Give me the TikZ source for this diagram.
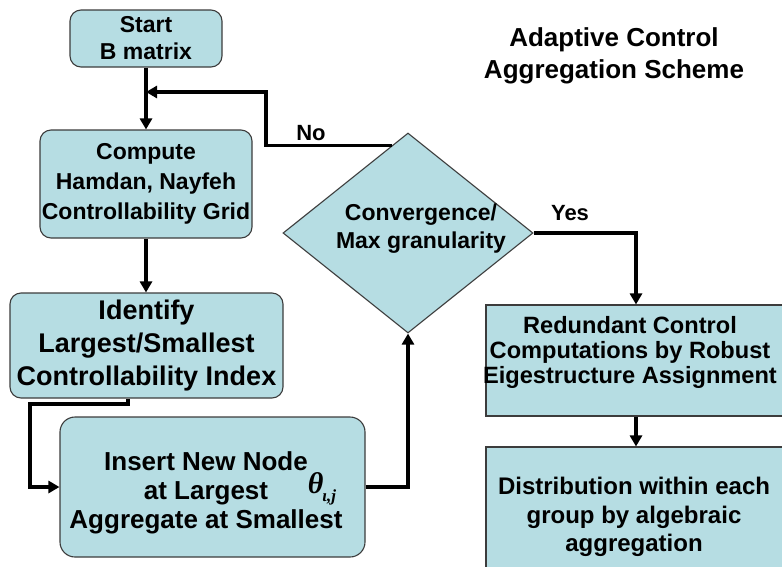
\documentclass[tikz,border=0pt]{standalone}
\usepackage{fontspec}
\setmainfont{Liberation Sans}
\newfontfamily\thetafont{Liberation Serif}
\usetikzlibrary{shapes.geometric,arrows.meta,calc}
\definecolor{boxfill}{RGB}{182,221,227}
\definecolor{boxline}{RGB}{60,60,60}
\begin{document}
\begin{tikzpicture}[x=1pt,y=-1pt,
  box/.style={draw=boxline,fill=boxfill,line width=1.1pt,inner sep=0pt},
  rbox/.style={box,rounded corners=11pt},
  txt/.style={align=center,inner sep=0pt},
  conn/.style={line width=3.2pt},
  arr/.style={conn,-{Triangle[width=12pt,length=11pt]}}]
\useasboundingbox (0,0) rectangle (782,566);
\clip (0,0) rectangle (782,566);

% boxes
\node[rbox,minimum width=152pt,minimum height=57pt,txt,
  font={\fontsize{23}{27}\selectfont\bfseries}] (start) at (146,38.5) {Start\\B matrix};
\node[rbox,minimum width=212pt,minimum height=108pt,txt,
  font={\fontsize{23}{30}\selectfont\bfseries}] (compute) at (146,184)
  {Compute\\Hamdan, Nayfeh\\Controllability Grid};
\node[rbox,minimum width=273pt,minimum height=105pt,txt,
  font={\fontsize{27}{33}\selectfont\bfseries}] (identify) at (146.5,345.5)
  {Identify\\Largest/Smallest\\Controllability Index};
\node[rbox,rounded corners=15pt,minimum width=305pt,minimum height=140pt] (insert) at (212.5,487) {};
\node[txt,font={\fontsize{26}{29}\selectfont\bfseries}] (inserttext) at (206,493)
  {Insert New Node\\at Largest\\Aggregate at Smallest};
\node[txt,font={\thetafont\bfseries\itshape\fontsize{30}{30}\selectfont}] (theta) at (322,489)
  {θ\kern-1pt\raisebox{-8pt}{\fontsize{17}{17}\selectfont ι,j}};

\node[box,shape=diamond,minimum width=250pt,minimum height=200pt] (dec) at (408,233) {};
\node[txt,font={\fontsize{23}{28}\selectfont\bfseries}] (dectext) at (421,229)
  {Convergence/\\Max granularity};

\node[box,minimum width=300pt,minimum height=111pt] (redundant) at (636,360.5) {};
\node[txt,font={\fontsize{23.6}{25}\selectfont\bfseries}] (redtext) at (630,352)
  {Redundant Control\\Computations by Robust\\Eigestructure Assignment};
\node[box,minimum width=300pt,minimum height=143pt] (distribution) at (636,518.5) {};
\node[txt,font={\fontsize{24}{28.5}\selectfont\bfseries}] (disttext) at (634,517)
  {Distribution within each\\group by algebraic\\aggregation};

\node[txt,font={\fontsize{26}{32}\selectfont\bfseries}] (title) at (614,56)
  {Adaptive Control\\Aggregation Scheme};

\node[txt,font={\fontsize{22}{22}\selectfont\bfseries}] (nolab) at (311,133) {No};
\node[txt,font={\fontsize{22}{22}\selectfont\bfseries}] (yeslab) at (570,213) {Yes};

% coordinates
\coordinate (j) at (146,92);
\coordinate (nk) at (266,92);
\coordinate (nostart) at ($(dec.north)!0.13!(dec.west)$);
\coordinate (ia) at (128,404);
\coordinate (ib) at (30,404);

% connectors
\draw[arr] (start.south) -- (compute.north);
\draw[arr] (nostart) -| (nk) -- (j);
\draw[arr] (compute.south) -- (compute.south |- identify.north);
\draw[arr] (identify.south -| ia) -- (ia) -- (ib) |- (insert.west);
\draw[arr] (insert.east) -| (dec.south);
\draw[arr] (dec.east) -| (redundant.north);
\draw[arr] (redundant.south) -- (distribution.north);
\end{tikzpicture}
\end{document}
